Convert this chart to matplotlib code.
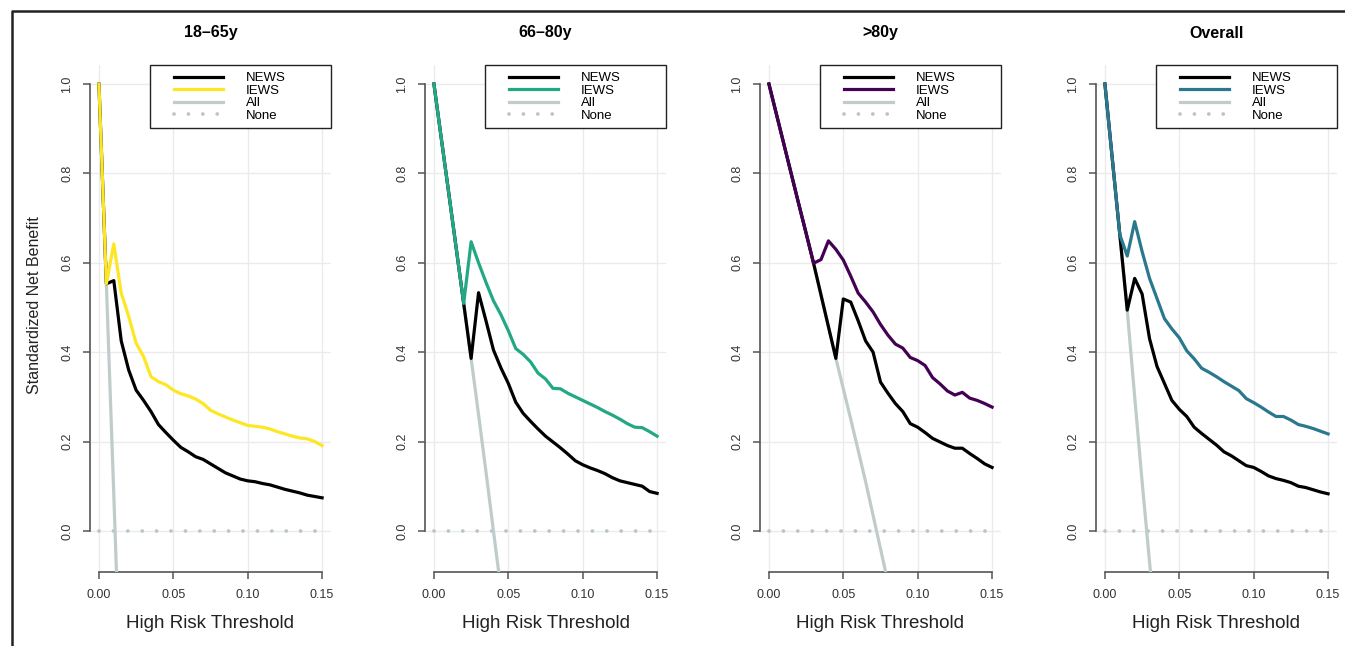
import matplotlib
matplotlib.use("Agg")
import matplotlib.pyplot as plt
import numpy as np
from matplotlib.lines import Line2D
from matplotlib.patches import Rectangle
from matplotlib.ticker import FormatStrFormatter

plt.rcParams['font.family'] = ['Liberation Sans', 'DejaVu Sans']

# decision thresholds (0 to 0.15 by 0.005)
thresholds = [0.000, 0.005, 0.010, 0.015, 0.020, 0.025, 0.030, 0.035, 0.040, 0.045,
              0.050, 0.055, 0.060, 0.065, 0.070, 0.075, 0.080, 0.085, 0.090, 0.095,
              0.100, 0.105, 0.110, 0.115, 0.120, 0.125, 0.130, 0.135, 0.140, 0.145, 0.150]

panel_titles = ["18\u201365y", "66\u201380y", ">80y", "Overall"]
iews_colors = ["#FDE725", "#22A884", "#440154", "#2A788E"]

news_1865 = [1.000, 0.553, 0.560, 0.425, 0.360, 0.315, 0.292, 0.267, 0.238, 0.220,
             0.203, 0.187, 0.177, 0.166, 0.160, 0.150, 0.140, 0.130, 0.123, 0.116,
             0.112, 0.110, 0.106, 0.103, 0.098, 0.093, 0.089, 0.085, 0.080, 0.077, 0.074]
iews_1865 = [1.000, 0.553, 0.642, 0.532, 0.480, 0.420, 0.390, 0.345, 0.334, 0.327,
             0.315, 0.307, 0.302, 0.295, 0.285, 0.270, 0.262, 0.255, 0.248, 0.242,
             0.236, 0.234, 0.232, 0.228, 0.222, 0.217, 0.212, 0.208, 0.206, 0.200, 0.191]
all_1865 = [1.000, 0.553, 0.080, -0.400]

news_6680 = [1.000, 0.877, 0.755, 0.632, 0.509, 0.386, 0.533, 0.470, 0.405, 0.365,
             0.330, 0.288, 0.263, 0.245, 0.228, 0.212, 0.199, 0.186, 0.172, 0.157,
             0.148, 0.141, 0.135, 0.128, 0.119, 0.112, 0.108, 0.104, 0.100, 0.088, 0.084]
iews_6680 = [1.000, 0.877, 0.755, 0.632, 0.509, 0.647, 0.600, 0.556, 0.515, 0.484,
             0.448, 0.408, 0.395, 0.378, 0.353, 0.340, 0.319, 0.318, 0.308, 0.300,
             0.292, 0.284, 0.276, 0.267, 0.259, 0.250, 0.240, 0.232, 0.231, 0.222, 0.212]
all_6680 = [1.000, 0.877, 0.755, 0.632, 0.509, 0.386, 0.260, 0.132, 0.000, -0.130]

news_80 = [1.000, 0.933, 0.866, 0.799, 0.732, 0.666, 0.599, 0.528, 0.457, 0.386,
           0.519, 0.512, 0.470, 0.425, 0.400, 0.333, 0.308, 0.285, 0.267, 0.240,
           0.232, 0.220, 0.207, 0.199, 0.191, 0.185, 0.185, 0.173, 0.162, 0.150, 0.142]
iews_80 = [1.000, 0.933, 0.866, 0.799, 0.732, 0.666, 0.599, 0.607, 0.649, 0.630,
           0.606, 0.570, 0.532, 0.512, 0.490, 0.462, 0.438, 0.418, 0.409, 0.388,
           0.381, 0.370, 0.343, 0.329, 0.313, 0.304, 0.310, 0.297, 0.292, 0.285, 0.277]
all_80 = [1.000, 0.933, 0.866, 0.799, 0.732, 0.666, 0.599, 0.528, 0.457, 0.386,
          0.318, 0.250, 0.180, 0.110, 0.035, -0.040, -0.115]

news_all = [1.000, 0.831, 0.663, 0.494, 0.565, 0.530, 0.430, 0.368, 0.330, 0.292,
            0.272, 0.256, 0.232, 0.218, 0.205, 0.192, 0.177, 0.168, 0.157, 0.146,
            0.142, 0.133, 0.123, 0.117, 0.113, 0.108, 0.100, 0.097, 0.092, 0.087, 0.083]
iews_all = [1.000, 0.831, 0.663, 0.615, 0.692, 0.625, 0.565, 0.520, 0.475, 0.452,
            0.432, 0.403, 0.385, 0.364, 0.355, 0.345, 0.334, 0.324, 0.314, 0.296,
            0.287, 0.277, 0.266, 0.256, 0.256, 0.248, 0.238, 0.234, 0.229, 0.223, 0.217]
all_all = [1.000, 0.831, 0.663, 0.494, 0.300, 0.110, -0.070, -0.250]

news_series = [news_1865, news_6680, news_80, news_all]
iews_series = [iews_1865, iews_6680, iews_80, iews_all]
all_series = [all_1865, all_6680, all_80, all_all]

W, H = 1345, 646
fig = plt.figure(figsize=(W / 100, H / 100), dpi=100)

ref_color = "#C0CCCB"
lw = 2.3
panel_left = [90, 425, 760, 1096]
ax_w, ax_top, ax_bot = 241, 65, 572

for i in range(4):
    ax = fig.add_axes([panel_left[i] / W, 1 - ax_bot / H, ax_w / W, (ax_bot - ax_top) / H])
    t = np.array(thresholds)
    ax.plot(t, np.zeros(len(t)), color="#B8C6C5", lw=2.7, linestyle=(0, (0.01, 3.83)),
            dash_capstyle='round', label="None", zorder=2)
    ax.plot(t[:len(all_series[i])], all_series[i], color=ref_color, lw=lw, label="All", zorder=3)
    ax.plot(t, news_series[i], color="black", lw=lw, label="NEWS", zorder=4)
    ax.plot(t, iews_series[i], color=iews_colors[i], lw=lw, label="IEWS", zorder=5)

    ax.set_xlim(-0.006, 0.156)
    ax.set_ylim(-0.092, 1.0425)
    ax.set_xticks([0, 0.05, 0.10, 0.15])
    ax.set_yticks([0, 0.2, 0.4, 0.6, 0.8, 1.0])
    ax.xaxis.set_major_formatter(FormatStrFormatter('%.2f'))
    ax.yaxis.set_major_formatter(FormatStrFormatter('%.1f'))
    ax.grid(color="#EBEBEB", lw=1)
    ax.set_axisbelow(True)
    for s in ['top', 'right']:
        ax.spines[s].set_visible(False)
    ax.spines['left'].set_bounds(0, 1)
    ax.spines['bottom'].set_bounds(0, 0.15)
    for s in ['left', 'bottom']:
        ax.spines[s].set_color("#555555")
        ax.spines[s].set_linewidth(1.2)
    ax.tick_params(axis='both', direction='out', length=5, width=1.1, color="#555555",
                   labelsize=9, labelcolor="#333333")
    ax.tick_params(axis='x', pad=7.5)
    ax.tick_params(axis='y', pad=7, labelrotation=90)
    for lab in ax.get_yticklabels():
        lab.set_va('center')

    ax.set_xlabel("High Risk Threshold", fontsize=13.5, color="#222222")
    ax.xaxis.set_label_coords(0.5, (ax_bot - 624) / (ax_bot - ax_top))
    ax.xaxis.label.set_va('center')
    ax.text(0.5, (ax_bot - 33) / (ax_bot - ax_top), panel_titles[i], transform=ax.transAxes,
            ha='center', va='center', fontsize=11.5, fontweight='bold')

    # legend box
    box_x0 = 60 / ax_w
    box_y0 = (ax_bot - 128) / (ax_bot - ax_top)
    ax.add_patch(Rectangle((box_x0, box_y0), 1 - box_x0, 1 - box_y0, transform=ax.transAxes,
                           facecolor="white", edgecolor="#222222", lw=1.0, zorder=6, clip_on=False))
    h, l = ax.get_legend_handles_labels()
    order = [2, 3, 1, 0]
    leg = ax.legend([h[k] for k in order], [l[k] for k in order], loc='upper left',
                    bbox_to_anchor=(77 / ax_w, 1.0), frameon=False, fontsize=9.5,
                    handlelength=3.7, handletextpad=1.75, labelspacing=0.02,
                    borderaxespad=0, borderpad=0.55)
    leg.set_zorder(7)

fig.text(35 / W, 1 - 305 / H, "Standardized Net Benefit", rotation=90, ha='center', va='center',
         fontsize=11.5, color="#222222")

# outer frame
fig.add_artist(Line2D([12 / W, 12 / W, 1.0], [0.0, 1 - 11 / H, 1 - 11 / H],
                      transform=fig.transFigure, color="#222222", lw=1.8))

fig.savefig("out.png", dpi=100)
